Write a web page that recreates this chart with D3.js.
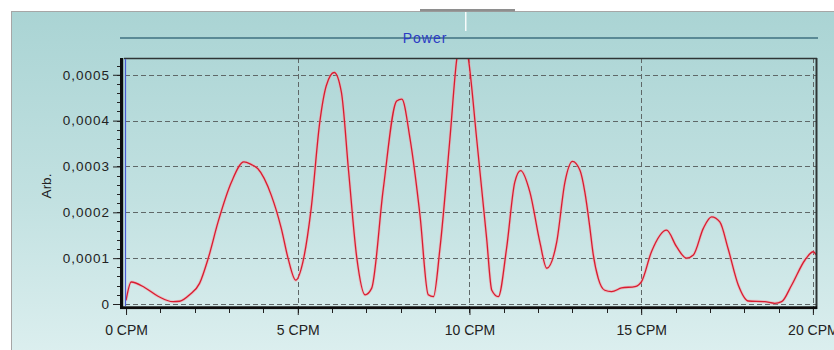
<!DOCTYPE html>
<html>
<head>
<meta charset="utf-8">
<script src="https://cdn.jsdelivr.net/npm/d3@7"></script>
<style>
  html, body { margin: 0; padding: 0; background: #ffffff; }
  svg { display: block; }
</style>
</head>
<body>
<svg id="chart" width="834" height="350"></svg>
<script>
// ---- data (frequency in CPM, power in arbitrary units) ----
const freq = [0.0, 0.15, 0.54, 0.93, 1.37, 1.56, 1.85, 2.14, 2.39, 2.68, 3.07, 3.43, 3.65, 3.84,
  4.23, 4.52, 4.72, 4.94, 5.15, 5.39, 5.64, 5.83, 6.06, 6.27, 6.48, 6.72, 6.96, 7.15, 7.49,
  7.88, 8.03, 8.27, 8.56, 8.8, 8.95, 9.14, 9.43, 9.63, 9.8, 9.97, 10.21, 10.5, 10.65, 10.84,
  11.08, 11.32, 11.49, 11.76, 12.05, 12.25, 12.54, 12.78, 13.0, 13.22, 13.36, 13.5, 13.6,
  13.75, 13.94, 14.14, 14.43, 14.82, 15.01, 15.3, 15.74, 16.03, 16.32, 16.52, 16.81, 17.05,
  17.29, 17.53, 17.83, 18.12, 18.6, 18.89, 19.09, 19.38, 19.77, 20.01, 20.1];
const power = [0.08, 0.48, 0.36, 0.17, 0.05, 0.06, 0.2, 0.45, 0.99, 1.79, 2.66, 3.1, 3.04, 2.95,
  2.37, 1.65, 0.99, 0.52, 0.92, 2.08, 3.96, 4.76, 5.05, 4.62, 2.9, 1.0, 0.2, 0.34, 2.51,
  4.43, 4.47, 3.6, 1.93, 0.2, 0.16, 1.21, 3.6, 5.34, 5.9, 5.34, 3.6, 1.43, 0.3, 0.16,
  1.21, 2.66, 2.91, 2.44, 1.35, 0.78, 1.35, 2.66, 3.11, 2.91, 2.44, 1.7, 1.1,
  0.56, 0.3, 0.27, 0.35, 0.38, 0.49, 1.14, 1.61, 1.25, 1.0, 1.07, 1.65, 1.9,
  1.79, 1.21, 0.41, 0.065, 0.05, 0.015, 0.05, 0.41, 0.96, 1.14, 1.07].map(v => v * 1e-4);

const xTicks = [0, 5, 10, 15, 20];
const xMinorTicks = d3.range(0, 21, 1);
const yTicks = [0, 0.0001, 0.0002, 0.0003, 0.0004, 0.0005];
const yMinorTicks = d3.range(0, 0.000531, 0.00002);
const titleText = "Power";
const yLabelText = "Arb.";
const xUnit = " CPM";

// ---- layout ----
const svg = d3.select("#chart");
const P = { left: 124, right: 817, top: 58, bottom: 307 };

const x = d3.scaleLinear().domain([-0.06, 20.12]).range([P.left, P.right]);
const y = d3.scaleLinear().domain([-0.00000654, 0.0005366]).range([P.bottom, P.top]);

// background gradient
const defs = svg.append("defs");
const grad = defs.append("linearGradient").attr("id", "bg")
  .attr("x1", 0).attr("y1", 0).attr("x2", 0).attr("y2", 1);
grad.append("stop").attr("offset", "0%").attr("stop-color", "#aad4d4");
grad.append("stop").attr("offset", "55%").attr("stop-color", "#c2e1e1");
grad.append("stop").attr("offset", "100%").attr("stop-color", "#dcefef");

defs.append("clipPath").attr("id", "plotclip").append("rect")
  .attr("x", P.left).attr("y", P.top).attr("width", P.right - P.left).attr("height", P.bottom - P.top);

svg.append("rect").attr("x", 11.5).attr("y", 11.5).attr("width", 830).attr("height", 345)
  .attr("fill", "url(#bg)").attr("stroke", "#a6a6a6").attr("stroke-width", 1);

// small screenshot artifacts at top
svg.append("rect").attr("x", 420).attr("y", 9).attr("width", 95).attr("height", 2.5).attr("fill", "#8e8e8e");
svg.append("rect").attr("x", 465).attr("y", 12).attr("width", 1.5).attr("height", 19).attr("fill", "#ffffff").attr("opacity", 0.9);

// title line and title
svg.append("line").attr("x1", 120).attr("x2", 818).attr("y1", 38).attr("y2", 38)
  .attr("stroke", "#5a8a96").attr("stroke-width", 2);
svg.append("text").attr("x", 425).attr("y", 43).attr("text-anchor", "middle")
  .attr("font-family", "Liberation Sans, Arial, sans-serif").attr("font-size", 14)
  .attr("letter-spacing", 1).attr("fill", "#2b3bc4").text(titleText);

// grid
const gridColor = "#5f6868";
svg.append("g").selectAll("line").data(yTicks).join("line")
  .attr("x1", P.left + 1).attr("x2", P.right)
  .attr("y1", d => Math.round(y(d)) + 0.5).attr("y2", d => Math.round(y(d)) + 0.5)
  .attr("stroke", gridColor).attr("stroke-width", 1).attr("stroke-dasharray", "5,3");
svg.append("g").selectAll("line").data(xTicks.filter(d => d > 0)).join("line")
  .attr("x1", d => Math.round(x(d)) + 0.5).attr("x2", d => Math.round(x(d)) + 0.5)
  .attr("y1", P.top).attr("y2", P.bottom)
  .attr("stroke", gridColor).attr("stroke-width", 1).attr("stroke-dasharray", "5,3");

// data line
svg.append("path").datum(freq.map((f, i) => [f, power[i]]))
  .attr("clip-path", "url(#plotclip)")
  .attr("fill", "none").attr("stroke", "#f2a0a8").attr("stroke-width", 3).attr("stroke-opacity", 0.55)
  .attr("d", d3.line().x(d => x(d[0])).y(d => y(d[1])).curve(d3.curveMonotoneX));
svg.append("path").datum(freq.map((f, i) => [f, power[i]]))
  .attr("clip-path", "url(#plotclip)")
  .attr("fill", "none").attr("stroke", "#d81c30").attr("stroke-width", 1.3)
  .attr("d", d3.line().x(d => x(d[0])).y(d => y(d[1])).curve(d3.curveMonotoneX));

// frame
svg.append("line").attr("x1", P.left).attr("x2", P.right).attr("y1", P.top + 0.5).attr("y2", P.top + 0.5)
  .attr("stroke", "#2e3434").attr("stroke-width", 1.6);
svg.append("line").attr("x1", P.right - 0.5).attr("x2", P.right - 0.5).attr("y1", P.top).attr("y2", 309)
  .attr("stroke", "#2e3434").attr("stroke-width", 2);
svg.append("line").attr("x1", Math.round(x(0)) - 0.5).attr("x2", Math.round(x(0)) - 0.5)
  .attr("y1", P.top + 1).attr("y2", 306)
  .attr("stroke", "#4a5ad6").attr("stroke-width", 1.2);

// y axis
const yAxis = d3.axisLeft(y).tickValues(yTicks).tickSize(7).tickPadding(3)
  .tickFormat(d => d === 0 ? "0" : d.toFixed(4).replace(".", ","));
const gy = svg.append("g").attr("transform", "translate(120,0)").call(yAxis);
gy.select(".domain").remove();
gy.selectAll(".tick line").attr("stroke", "#222");
gy.selectAll("text").attr("font-family", "Liberation Sans, Arial, sans-serif")
  .attr("font-size", 13.5).attr("letter-spacing", 1).attr("fill", "#222");
svg.append("g").selectAll("line").data(yMinorTicks).join("line")
  .attr("x1", 117).attr("x2", 120).attr("y1", d => Math.round(y(d)) + 0.5).attr("y2", d => Math.round(y(d)) + 0.5)
  .attr("stroke", "#222").attr("stroke-width", 1);
svg.append("rect").attr("x", 120).attr("y", P.top).attr("width", 3.2).attr("height", 251).attr("fill", "#0c0c0c");

// x axis
const xAxis = d3.axisBottom(x).tickValues(xTicks).tickSize(6).tickPadding(10)
  .tickFormat(d => d + xUnit);
const gx = svg.append("g").attr("transform", "translate(0,309)").call(xAxis);
gx.select(".domain").remove();
gx.selectAll(".tick line").attr("stroke", "#222");
gx.selectAll("text").attr("font-family", "Liberation Sans, Arial, sans-serif")
  .attr("font-size", 14).attr("fill", "#222");
svg.append("g").selectAll("line").data(xMinorTicks).join("line")
  .attr("x1", d => Math.round(x(d)) + 0.5).attr("x2", d => Math.round(x(d)) + 0.5)
  .attr("y1", 309).attr("y2", 313).attr("stroke", "#222").attr("stroke-width", 1);
svg.append("rect").attr("x", 120).attr("y", 306.3).attr("width", P.right - 120).attr("height", 2.8).attr("fill", "#0c0c0c");

// y label
svg.append("text").attr("transform", "translate(51,186) rotate(-90)").attr("text-anchor", "middle")
  .attr("font-family", "Liberation Sans, Arial, sans-serif").attr("font-size", 13.5).attr("fill", "#222")
  .text(yLabelText);
</script>
</body>
</html>
